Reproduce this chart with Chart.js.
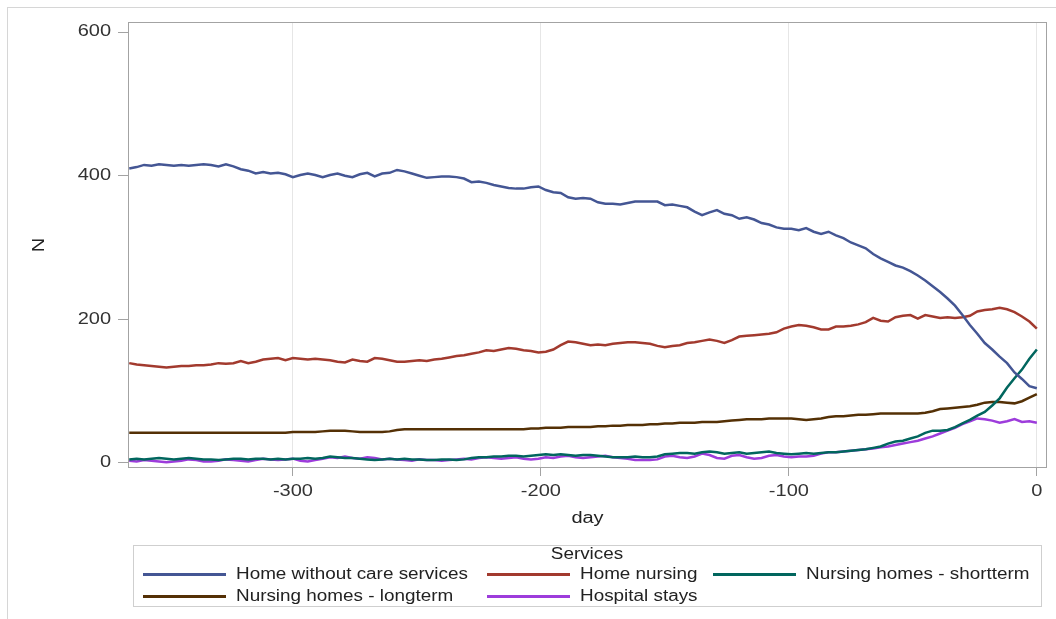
<!DOCTYPE html>
<html>
<head>
<meta charset="utf-8">
<script src="https://cdn.jsdelivr.net/npm/chart.js@4/dist/chart.umd.min.js"></script>
<style>
  html, body { margin: 0; padding: 0; background: #fff; }
  #wrap { position: relative; width: 1056px; height: 619px; overflow: hidden;
          font-family: "Liberation Sans", Arial, sans-serif; }
  #frame { position: absolute; left: 7px; top: 7px; width: 1100px; height: 700px;
           border-left: 1px solid #d6d6d6; border-top: 1px solid #d6d6d6; }
  #chart { position: absolute; left: 0; top: 0; }
  #legend { position: absolute; left: 133px; top: 545px; width: 909px; height: 62px;
            border: 1px solid #cfcfcf; box-sizing: border-box; }
  .lg-title { position: absolute; font-size: 16px; color: #222; line-height: 20px;
              white-space: nowrap; transform: translateX(-50%) scaleX(1.18); }
  .lg-item { position: absolute; height: 20px; display: flex; align-items: center; }
  .lg-line { width: 83px; height: 3px; margin-right: 10px; flex: none; }
  .lg-text { font-size: 16px; color: #222; white-space: nowrap; display: inline-block;
             transform: scaleX(1.18); transform-origin: left center; }
</style>
</head>
<body>
<div id="wrap">
  <div id="frame"></div>
  <canvas id="chart" width="1056" height="619"></canvas>
  <div id="legend"></div>
</div>
<script>
// Day offsets (x axis)
const days = [
  -366,-363,-360,-357,-354,-351,-348,-345,-342,-339,
  -336,-333,-330,-327,-324,-321,-318,-315,-312,-309,
  -306,-303,-300,-297,-294,-291,-288,-285,-282,-279,
  -276,-273,-270,-267,-264,-261,-258,-255,-252,-249,
  -246,-243,-240,-237,-234,-231,-228,-225,-222,-219,
  -216,-213,-210,-207,-204,-201,-198,-195,-192,-189,
  -186,-183,-180,-177,-174,-171,-168,-165,-162,-159,
  -156,-153,-150,-147,-144,-141,-138,-135,-132,-129,
  -126,-123,-120,-117,-114,-111,-108,-105,-102,-99,
  -96,-93,-90,-87,-84,-81,-78,-75,-72,-69,
  -66,-63,-60,-57,-54,-51,-48,-45,-42,-39,
  -36,-33,-30,-27,-24,-21,-18,-15,-12,-9,
  -6,-3,0
];

const homeWithoutCare = [
  410,412,415,414,416,415,414,415,414,415,
  416,415,413,416,413,409,407,403,405,403,
  404,402,398,401,403,401,398,401,403,400,
  398,402,404,399,403,404,408,406,403,400,
  397,398,399,399,398,396,391,392,390,387,
  385,383,382,382,384,385,380,377,376,370,
  368,369,368,363,361,361,360,362,364,364,
  364,364,359,360,358,356,350,345,349,352,
  347,345,340,342,339,334,332,328,326,326,
  324,327,322,319,322,317,313,307,303,299,
  291,285,280,275,272,267,261,254,246,238,
  229,219,206,192,180,167,158,148,139,126,
  117,107,104
];

const homeNursing = [
  139,137,136,135,134,133,134,135,135,136,
  136,137,139,138,139,142,139,141,144,145,
  146,143,146,145,144,145,144,143,141,140,
  144,142,141,146,145,143,141,141,142,143,
  142,144,145,147,149,150,152,154,157,156,
  158,160,159,157,156,154,155,158,164,169,
  168,166,164,165,164,166,167,168,168,167,
  166,163,161,163,164,167,168,170,172,170,
  167,171,176,177,178,179,180,182,187,190,
  192,191,189,186,186,190,190,191,193,196,
  202,198,197,203,205,206,201,206,204,202,
  203,202,203,205,211,213,214,216,214,210,
  204,197,187
];

const shortterm = [
  5,6,5,6,7,6,5,6,7,6,
  5,5,4,5,6,6,5,6,6,5,
  6,5,6,6,7,6,7,9,8,7,
  7,6,5,4,5,6,5,6,5,5,
  4,4,5,5,4,5,7,8,8,9,
  9,10,10,9,10,11,12,11,12,11,
  10,11,11,10,9,8,8,8,9,8,
  8,9,12,13,14,14,13,15,16,15,
  13,14,15,13,14,15,16,14,13,12,
  13,14,13,14,15,15,16,17,18,19,
  21,23,27,30,31,34,37,42,45,45,
  46,50,55,60,66,71,80,90,105,118,
  130,145,158
];

const longterm = [
  42,42,42,42,42,42,42,42,42,42,
  42,42,42,42,42,42,42,42,42,42,
  42,42,43,43,43,43,44,45,45,45,
  44,43,43,43,43,44,46,47,47,47,
  47,47,47,47,47,47,47,47,47,47,
  47,47,47,47,48,48,49,49,49,50,
  50,50,50,51,51,52,52,53,53,53,
  54,54,55,55,56,56,56,57,57,57,
  58,59,60,61,61,61,62,62,62,62,
  61,60,61,62,64,65,65,66,67,67,
  68,69,69,69,69,69,69,70,72,75,
  76,77,78,79,81,84,85,85,84,83,
  86,91,96
];

const hospital = [
  3,2,4,3,2,1,2,3,5,4,
  2,2,3,5,4,3,2,4,6,5,
  4,5,6,3,2,4,6,8,7,9,
  7,6,8,7,5,6,5,4,3,5,
  4,4,3,4,5,6,5,7,8,7,
  6,7,8,6,5,6,8,7,9,10,
  8,7,8,9,10,8,7,6,4,4,
  4,5,9,10,8,7,9,13,11,7,
  6,10,11,8,6,7,10,11,9,8,
  9,9,10,13,15,15,16,17,18,19,
  20,22,23,25,27,29,31,34,37,41,
  45,49,54,58,62,61,59,56,58,61,
  57,58,56
];

const xTicks = [-300, -200, -100, 0];
const yTicks = [0, 200, 400, 600];

const seriesLabels = [
  'Home without care services',
  'Home nursing',
  'Nursing homes - shortterm',
  'Nursing homes - longterm',
  'Hospital stays'
];
const seriesValues = [homeWithoutCare, homeNursing, shortterm, longterm, hospital];
const seriesColors = ['#445694', '#A23A2E', '#01665E', '#543005', '#9D3CDB'];

const FONT = '"Liberation Sans", Arial, sans-serif';
const TEXT_STRETCH = 1.25;

const canvas = document.getElementById('chart');
const ctx2d = canvas.getContext('2d');

// Axis text is drawn horizontally widened around its anchor point
const plainFillText = ctx2d.fillText.bind(ctx2d);
ctx2d.fillText = function (text, x, y, maxWidth) {
  this.save();
  this.translate(x, y);
  this.scale(TEXT_STRETCH, 1);
  if (maxWidth === undefined) plainFillText(text, 0, 0);
  else plainFillText(text, 0, 0, maxWidth / TEXT_STRETCH);
  this.restore();
};

// Plot frame around the data area
const framePlugin = {
  id: 'plotFrame',
  afterDraw(chart) {
    const { ctx, chartArea: a } = chart;
    ctx.save();
    ctx.strokeStyle = '#a3a3a3';
    ctx.lineWidth = 1;
    ctx.strokeRect(a.left + 0.5, a.top + 0.5, a.right - a.left - 1, a.bottom - a.top - 1);
    ctx.restore();
  }
};

new Chart(canvas, {
  type: 'line',
  data: {
    datasets: seriesLabels.map((label, k) => ({
      label,
      data: days.map((d, i) => ({ x: d, y: seriesValues[k][i] })),
      borderColor: seriesColors[k],
      backgroundColor: seriesColors[k],
      borderWidth: 2.5,
      pointRadius: 0,
      fill: false,
      tension: 0
    }))
  },
  options: {
    responsive: false,
    animation: false,
    devicePixelRatio: 1,
    layout: { padding: { left: 0, top: 22, right: 9, bottom: 91 } },
    plugins: { legend: { display: false }, tooltip: { enabled: false } },
    scales: {
      x: {
        type: 'linear',
        min: -366.5,
        max: 4.1,
        afterBuildTicks: s => { s.ticks = xTicks.map(v => ({ value: v })); },
        afterFit: s => { s.height = 60; },
        border: { display: false },
        grid: { color: '#e6e6e6', tickColor: '#a3a3a3', tickLength: 8, drawOnChartArea: true },
        ticks: { font: { family: FONT, size: 16 }, color: '#333', padding: 6, maxRotation: 0 },
        title: { display: true, text: 'day', font: { family: FONT, size: 16 }, color: '#222',
                 padding: { top: 0, bottom: 0 } }
      },
      y: {
        min: -7,
        max: 614,
        afterBuildTicks: s => { s.ticks = yTicks.map(v => ({ value: v })); },
        afterFit: s => { s.width = 128; },
        border: { display: false },
        grid: { drawOnChartArea: false, tickColor: '#a3a3a3', tickLength: 10 },
        ticks: { font: { family: FONT, size: 16 }, color: '#333', padding: 7 },
        title: { display: true, text: 'N', font: { family: FONT, size: 16 }, color: '#222',
                 padding: { top: 30, bottom: 0 } }
      }
    }
  },
  plugins: [framePlugin]
});

// Legend: title row and a three-column grid of entries
const legendCols = [143, 487, 713];
const legendRows = [574, 596];
const wrap = document.getElementById('wrap');
const title = document.createElement('div');
title.className = 'lg-title';
title.textContent = 'Services';
title.style.left = '587px';
title.style.top = (554 - 10) + 'px';
wrap.appendChild(title);
seriesLabels.forEach((label, k) => {
  const item = document.createElement('div');
  item.className = 'lg-item';
  item.style.left = legendCols[k % 3] + 'px';
  item.style.top = (legendRows[Math.floor(k / 3)] - 10) + 'px';
  const line = document.createElement('span');
  line.className = 'lg-line';
  line.style.background = seriesColors[k];
  const text = document.createElement('span');
  text.className = 'lg-text';
  text.textContent = label;
  item.appendChild(line);
  item.appendChild(text);
  wrap.appendChild(item);
});
</script>
</body>
</html>
